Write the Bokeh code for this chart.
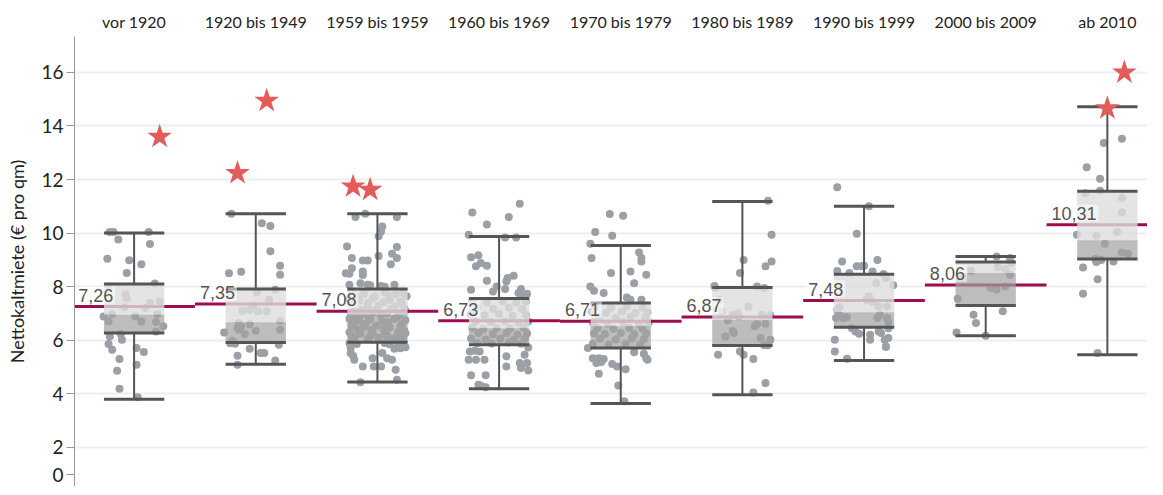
from bokeh.plotting import figure
from bokeh.models import Range1d, FixedTicker, Label
from bokeh.embed import file_html
from bokeh.resources import INLINE

# ---------------- data ----------------
categories = ["vor 1920", "1920 bis 1949", "1959 bis 1959", "1960 bis 1969", "1970 bis 1979",
              "1980 bis 1989", "1990 bis 1999", "2000 bis 2009", "ab 2010"]
means = [7.26, 7.35, 7.08, 6.73, 6.71, 6.87, 7.48, 8.06, 10.31]
mean_labels = ["7,26", "7,35", "7,08", "6,73", "6,71", "6,87", "7,48", "8,06", "10,31"]
q1 = [6.27, 5.92, 5.93, 5.83, 5.71, 5.80, 6.49, 7.30, 9.03]
median = [6.95, 6.67, 6.95, 6.45, 6.52, 6.77, 7.05, 8.51, 9.73]
q3 = [8.10, 7.91, 7.91, 7.56, 7.39, 7.97, 8.46, 8.92, 11.56]
whisker_low = [3.80, 5.10, 4.44, 4.19, 3.64, 3.97, 5.24, 6.17, 5.46]
whisker_high = [10.00, 10.72, 10.72, 9.87, 9.54, 11.18, 11.00, 9.13, 14.72]

outlier_group = [0, 1, 1, 2, 2, 8, 8]
outlier_jitter = [0.21, -0.15, 0.09, -0.20, -0.06, 0.14, 0.00]
outlier_value = [13.60, 12.24, 14.94, 11.74, 11.62, 16.00, 14.66]

y_ticks = [2, 4, 6, 8, 10, 12, 14, 16]
y_tick_labels = ["2", "4", "6", "8", "10", "12", "14", "16"]
zero_label = "0"

# jittered observations per group: (jitter, value)
g1 = [(-0.20, 10.04), (-0.17, 10.04), (0.12, 10.04), (-0.13, 9.76), (0.13, 9.59), (-0.22, 9.04),
      (-0.04, 8.99), (0.06, 8.84), (-0.06, 8.51), (0.17, 8.12), (-0.21, 8.01), (-0.07, 7.72),
      (-0.06, 7.57), (0.13, 7.39), (0.21, 7.45), (-0.08, 7.23), (0.09, 7.20), (-0.25, 6.89),
      (-0.18, 6.98), (0.01, 6.89), (0.19, 6.98), (0.06, 6.70), (0.18, 6.68), (0.24, 6.52),
      (-0.21, 6.70), (0.18, 6.33), (-0.20, 6.14), (-0.11, 6.23), (-0.21, 5.86), (-0.10, 6.02),
      (-0.18, 5.65), (0.02, 5.71), (0.08, 5.56), (-0.12, 5.30), (0.02, 5.09), (-0.14, 4.86),
      (-0.12, 4.19), (0.03, 3.87)]
g2 = [(-0.20, 10.72), (0.05, 10.37), (0.12, 10.27), (0.12, 9.32), (0.20, 8.78), (0.20, 8.45),
      (-0.22, 8.50), (-0.12, 8.56), (0.16, 7.89), (0.01, 7.79), (0.11, 7.51), (-0.05, 7.14),
      (0.02, 7.08), (0.09, 7.08), (-0.14, 6.64), (0.20, 6.73), (0.20, 6.39), (-0.05, 6.60),
      (-0.15, 6.45), (-0.12, 6.52), (-0.26, 6.29), (-0.09, 6.23), (0.00, 6.35), (-0.17, 5.87),
      (-0.19, 5.98), (-0.05, 5.68), (0.19, 5.83), (-0.15, 5.42), (0.04, 5.52), (0.07, 5.52),
      (-0.15, 5.09), (0.16, 5.24), (-0.11, 7.10), (-0.02, 7.30), (-0.14, 6.39), (-0.21, 5.89)]
g3 = [(-0.18, 10.60), (-0.10, 10.72), (0.16, 10.60), (0.04, 10.25), (0.03, 10.06), (0.01, 9.88),
      (-0.25, 9.50), (0.16, 9.48), (0.12, 9.23), (0.16, 9.07), (-0.21, 9.07), (-0.12, 8.98),
      (-0.08, 8.98), (0.01, 9.15), (0.11, 8.84), (-0.21, 8.69), (-0.26, 8.50), (-0.23, 8.48),
      (-0.12, 8.57), (-0.12, 8.44), (-0.23, 8.07), (-0.14, 8.13), (-0.08, 8.07), (-0.06, 8.05),
      (0.03, 8.03), (0.06, 8.00), (0.14, 8.07),
      (-0.21, 7.78), (-0.11, 7.74), (0.06, 7.80), (0.15, 7.72), (0.21, 7.76),
      (-0.23, 7.52), (-0.15, 7.48), (-0.04, 7.55), (0.10, 7.50), (0.19, 7.46),
      (-0.19, 7.28), (-0.08, 7.22), (0.01, 7.30), (0.14, 7.25), (0.22, 7.20),
      (-0.22, 7.03), (-0.12, 6.98), (-0.03, 7.05), (0.08, 7.00), (0.18, 6.96),
      (-0.23, 6.80), (-0.15, 6.74), (-0.06, 6.78), (0.04, 6.72), (0.14, 6.80), (0.23, 6.75),
      (-0.21, 6.55), (-0.11, 6.50), (-0.01, 6.54), (0.10, 6.48), (0.19, 6.53),
      (-0.23, 6.30), (-0.14, 6.25), (-0.04, 6.28), (0.06, 6.23), (0.17, 6.30), (0.23, 6.26),
      (-0.19, 6.10), (-0.08, 6.05), (0.01, 6.09), (0.12, 6.04), (0.21, 6.08),
      (-0.17, 7.65), (-0.02, 7.62), (0.09, 7.68), (0.24, 7.64),
      (-0.20, 7.40), (-0.08, 7.38), (0.05, 7.42), (0.20, 7.36),
      (-0.14, 7.14), (-0.02, 7.12), (0.11, 7.17), (0.23, 7.10),
      (-0.18, 6.90), (-0.07, 6.88), (0.03, 6.92), (0.16, 6.86),
      (-0.19, 6.64), (-0.10, 6.62), (0.09, 6.66), (0.20, 6.60),
      (-0.16, 6.40), (-0.05, 6.38), (0.05, 6.42), (0.22, 6.36),
      (-0.21, 6.16), (-0.06, 6.15), (0.08, 6.17), (0.16, 6.14),
      (-0.23, 5.89), (-0.17, 5.86), (0.06, 5.90), (0.10, 5.85), (0.17, 5.88), (0.21, 5.92),
      (-0.22, 5.71), (0.19, 5.70), (0.23, 5.74), (0.14, 5.68), (-0.22, 5.52), (0.04, 5.52),
      (-0.20, 5.42), (-0.04, 5.33), (0.08, 5.33), (0.12, 5.27), (-0.19, 5.27), (-0.12, 5.02),
      (-0.03, 5.02), (0.03, 5.02), (0.15, 4.90), (0.16, 4.53), (-0.14, 4.43)]
g4 = [(0.17, 11.10), (-0.22, 10.77), (0.08, 10.60), (-0.10, 10.32), (-0.25, 9.94), (0.05, 9.84),
      (0.14, 9.84), (-0.23, 9.10), (-0.17, 9.17), (-0.15, 8.88), (-0.10, 8.78), (-0.19, 8.76),
      (0.07, 8.32), (0.12, 8.41), (0.06, 8.20), (-0.10, 8.22), (-0.23, 7.89), (-0.02, 8.01),
      (-0.05, 7.82), (0.05, 7.91), (0.18, 7.91), (0.20, 7.70), (0.23, 7.74), (0.16, 7.76),
      (-0.22, 7.47), (-0.10, 7.42), (0.03, 7.46), (0.14, 7.40), (0.22, 7.44),
      (-0.18, 7.22), (-0.05, 7.18), (0.08, 7.21), (0.19, 7.16),
      (-0.23, 6.97), (-0.12, 6.93), (0.00, 6.98), (0.11, 6.92), (0.22, 6.95),
      (-0.19, 6.72), (-0.07, 6.68), (0.05, 6.71), (0.16, 6.66), (0.24, 6.70),
      (-0.22, 6.47), (-0.13, 6.42), (-0.02, 6.46), (0.09, 6.43), (0.20, 6.48),
      (-0.17, 6.27), (-0.05, 6.22), (0.06, 6.26), (0.15, 6.21), (0.23, 6.25),
      (-0.23, 6.07), (-0.11, 6.03), (0.01, 6.06), (0.12, 6.02), (0.21, 6.05),
      (-0.18, 5.90), (-0.06, 5.88), (0.08, 5.92), (0.18, 5.87),
      (-0.24, 5.58), (-0.20, 5.61), (-0.16, 5.58), (0.24, 5.73), (0.21, 5.46), (-0.25, 5.27),
      (-0.19, 5.27), (-0.12, 5.27), (0.06, 5.40), (0.17, 5.15), (0.23, 5.15), (0.18, 4.96),
      (0.24, 4.87), (0.06, 5.02), (-0.23, 4.69), (-0.11, 4.69), (-0.17, 4.34), (-0.11, 4.25),
      (-0.15, 4.30)]
g5 = [(-0.09, 10.71), (0.02, 10.65), (-0.21, 10.04), (-0.07, 9.90), (-0.25, 9.60), (0.15, 9.28),
      (-0.24, 9.07), (0.17, 8.94), (0.17, 9.07), (-0.08, 8.51), (0.08, 8.57), (0.21, 8.45),
      (0.11, 8.13), (-0.25, 8.01), (-0.22, 7.85), (-0.14, 7.76), (0.05, 7.60), (0.08, 7.51),
      (0.17, 7.51),
      (-0.21, 7.27), (-0.08, 7.22), (0.05, 7.26), (0.18, 7.21),
      (-0.24, 7.06), (-0.12, 7.02), (0.01, 7.07), (0.12, 7.03), (0.22, 7.05),
      (-0.18, 6.86), (-0.04, 6.83), (0.08, 6.88), (0.20, 6.84),
      (-0.23, 6.66), (-0.11, 6.63), (0.02, 6.67), (0.15, 6.62), (0.23, 6.66),
      (-0.19, 6.46), (-0.06, 6.43), (0.07, 6.47), (0.18, 6.44),
      (-0.22, 6.26), (-0.13, 6.23), (0.00, 6.27), (0.11, 6.22), (0.21, 6.25),
      (-0.17, 6.06), (-0.04, 6.03), (0.09, 6.07), (0.19, 6.04),
      (-0.23, 5.86), (-0.10, 5.83), (0.04, 5.87), (0.16, 5.84),
      (-0.27, 5.71), (-0.23, 5.33), (-0.18, 5.33), (-0.14, 5.30), (-0.20, 5.15), (-0.16, 5.19),
      (-0.07, 5.11), (-0.03, 5.02), (0.04, 4.92), (0.11, 5.55), (0.19, 5.50), (0.21, 5.33),
      (0.22, 5.27), (-0.18, 4.75), (-0.02, 4.31), (0.03, 3.72)]
g6 = [(0.21, 11.21), (0.24, 9.94), (0.01, 9.00), (0.24, 8.94), (0.19, 8.76), (-0.02, 8.51),
      (-0.23, 8.03), (-0.22, 7.95), (0.12, 8.01), (0.18, 7.95), (-0.19, 7.51), (-0.17, 7.08),
      (-0.08, 6.95), (-0.04, 7.01), (-0.03, 6.89), (0.16, 6.95), (0.23, 6.93), (0.10, 6.52),
      (0.19, 6.62), (-0.07, 6.27), (-0.14, 6.14), (0.15, 6.08), (0.23, 6.02), (0.18, 5.81),
      (0.21, 5.81), (-0.20, 5.46), (-0.02, 5.58), (0.01, 5.46), (0.09, 5.30), (0.19, 4.40),
      (0.09, 4.05), (-0.08, 6.35), (0.12, 6.60), (-0.12, 6.75), (0.05, 7.25)]
g7 = [(-0.22, 11.71), (0.04, 11.00), (-0.06, 9.98), (-0.18, 8.94), (0.11, 9.00), (-0.06, 8.76),
      (-0.02, 8.76), (0.00, 8.78), (-0.22, 8.59), (0.07, 8.57), (0.16, 8.47), (-0.12, 8.51),
      (0.18, 8.32), (0.10, 8.13), (0.24, 8.05), (0.04, 7.64), (0.02, 7.51), (0.07, 7.45),
      (0.12, 7.26), (0.19, 7.26), (-0.20, 7.23), (-0.22, 7.14), (-0.20, 6.93), (-0.17, 6.83),
      (-0.14, 6.87), (-0.23, 6.83), (0.11, 6.83), (0.19, 6.83), (0.13, 6.95), (0.20, 6.68),
      (-0.10, 6.45), (-0.07, 6.33), (-0.04, 6.24), (0.14, 6.27), (0.12, 6.33), (0.20, 6.45),
      (0.05, 6.21), (0.05, 6.02), (0.17, 6.02), (0.20, 6.08), (-0.24, 6.02), (-0.24, 5.58),
      (-0.14, 5.31), (0.18, 5.75), (0.18, 5.77)]
g8 = [(0.09, 9.13), (0.20, 9.07), (0.21, 8.88), (0.10, 8.73), (0.16, 8.66), (-0.12, 8.59),
      (0.20, 8.45), (0.04, 7.95), (0.09, 7.89), (0.16, 8.01), (-0.23, 7.55), (0.14, 7.08),
      (-0.10, 6.95), (-0.08, 6.64), (-0.24, 6.29), (0.00, 6.17)]
g9 = [(0.12, 13.52), (-0.03, 13.36), (-0.17, 12.46), (-0.06, 12.03), (-0.06, 11.58), (-0.18, 11.49),
      (0.12, 11.31), (0.12, 10.77), (0.08, 10.04), (-0.25, 9.94), (-0.09, 9.90), (-0.02, 9.60),
      (0.12, 9.28), (0.17, 9.23), (-0.10, 9.03), (-0.05, 9.00), (-0.09, 8.92), (0.05, 8.94),
      (-0.20, 8.72), (-0.08, 8.28), (-0.20, 7.74), (-0.08, 5.52)]
groups = [g1, g2, g3, g4, g5, g6, g7, g8, g9]

# ---------------- styling ----------------
FONT = "Lato"
DOT = "#9ba0a7"
DARK = "#555555"
MEAN_C = "#9c0f4e"
STAR_C = "#e35b5b"
BOX_HALF = 0.248
ZERO_POS = 0.97  # where the "0" label sits (the reference prints it just above the bottom edge)

n = len(categories)
centers = [i + 0.5 for i in range(n)]
band_lo = [float(i) for i in range(n)]
band_hi = [i + 1.0 for i in range(n)]

p = figure(width=1147, height=486, output_backend="svg", toolbar_location=None,
           x_range=Range1d(0.01, 8.83), y_range=Range1d(0.54, 17.34),
           x_axis_location="above",
           min_border_left=74, min_border_right=0, min_border_top=36, min_border_bottom=0)
p.outline_line_color = None
p.background_fill_color = "white"
p.border_fill_color = "white"

p.xgrid.visible = False
p.ygrid.ticker = FixedTicker(ticks=y_ticks)
p.ygrid.grid_line_color = "#eeeeee"
p.ygrid.grid_line_width = 2

# top category axis
p.xaxis.ticker = FixedTicker(ticks=centers)
p.xaxis.major_label_overrides = {c: lab for c, lab in zip(centers, categories)}
p.xaxis.axis_line_color = None
p.xaxis.major_tick_line_color = None
p.xaxis.minor_tick_line_color = None
p.xaxis.major_label_standoff = 0
p.xaxis.major_label_text_font = FONT
p.xaxis.major_label_text_font_size = "16px"
p.xaxis.major_label_text_color = "#222222"

# left value axis
p.yaxis.ticker = FixedTicker(ticks=[ZERO_POS] + y_ticks)
overrides = {t: lab for t, lab in zip(y_ticks, y_tick_labels)}
overrides[ZERO_POS] = zero_label
p.yaxis.major_label_overrides = overrides
p.yaxis.axis_line_color = "#999999"
p.yaxis.major_tick_line_color = "#999999"
p.yaxis.major_tick_out = 8
p.yaxis.major_tick_in = 0
p.yaxis.minor_tick_line_color = None
p.yaxis.major_label_standoff = 3
p.yaxis.major_label_text_font = FONT
p.yaxis.major_label_text_font_size = "19px"
p.yaxis.major_label_text_color = "#222222"
p.yaxis.axis_label = "Nettokaltmiete (€ pro qm)"
p.yaxis.axis_label_text_font = FONT
p.yaxis.axis_label_text_font_size = "18px"
p.yaxis.axis_label_text_font_style = "normal"
p.yaxis.axis_label_text_color = "#222222"
p.yaxis.axis_label_standoff = 10

# jittered points
xs, ys = [], []
for i, g in enumerate(groups):
    for jit, val in g:
        xs.append(centers[i] + jit)
        ys.append(val)
p.scatter(xs, ys, size=8, fill_color=DOT, line_color=None)

# mean lines across each band
p.segment(x0=band_lo, x1=band_hi, y0=means, y1=means, line_color=MEAN_C, line_width=3)

# boxes
p.vbar(x=centers, width=2 * BOX_HALF, bottom=median, top=q3,
       fill_color="#dddddd", fill_alpha=0.8, line_color=None)
p.vbar(x=centers, width=2 * BOX_HALF, bottom=q1, top=median,
       fill_color="#a1a1a1", fill_alpha=0.7, line_color=None)

# whiskers
p.segment(x0=centers, x1=centers, y0=q3, y1=whisker_high, line_color=DARK, line_width=2)
p.segment(x0=centers, x1=centers, y0=q1, y1=whisker_low, line_color=DARK, line_width=2)
left = [c - BOX_HALF for c in centers]
right = [c + BOX_HALF for c in centers]
for arr in (q1, q3, whisker_low, whisker_high):
    p.segment(x0=left, x1=right, y0=arr, y1=arr, line_color=DARK, line_width=3)

# outliers
p.scatter([centers[g] + j for g, j in zip(outlier_group, outlier_jitter)], outlier_value,
          marker="star", size=26, fill_color=STAR_C, line_color=None)

# mean labels
for i in range(n):
    p.add_layout(Label(x=band_lo[i], y=means[i], text=mean_labels[i], x_offset=3, y_offset=3,
                       text_align="left", text_baseline="bottom",
                       text_font="Liberation Sans", text_font_size="18px", text_color="#555555",
                       background_fill_color="white", background_fill_alpha=0.5,
                       padding=2))

open("out.html", "w").write(file_html(p, INLINE))
